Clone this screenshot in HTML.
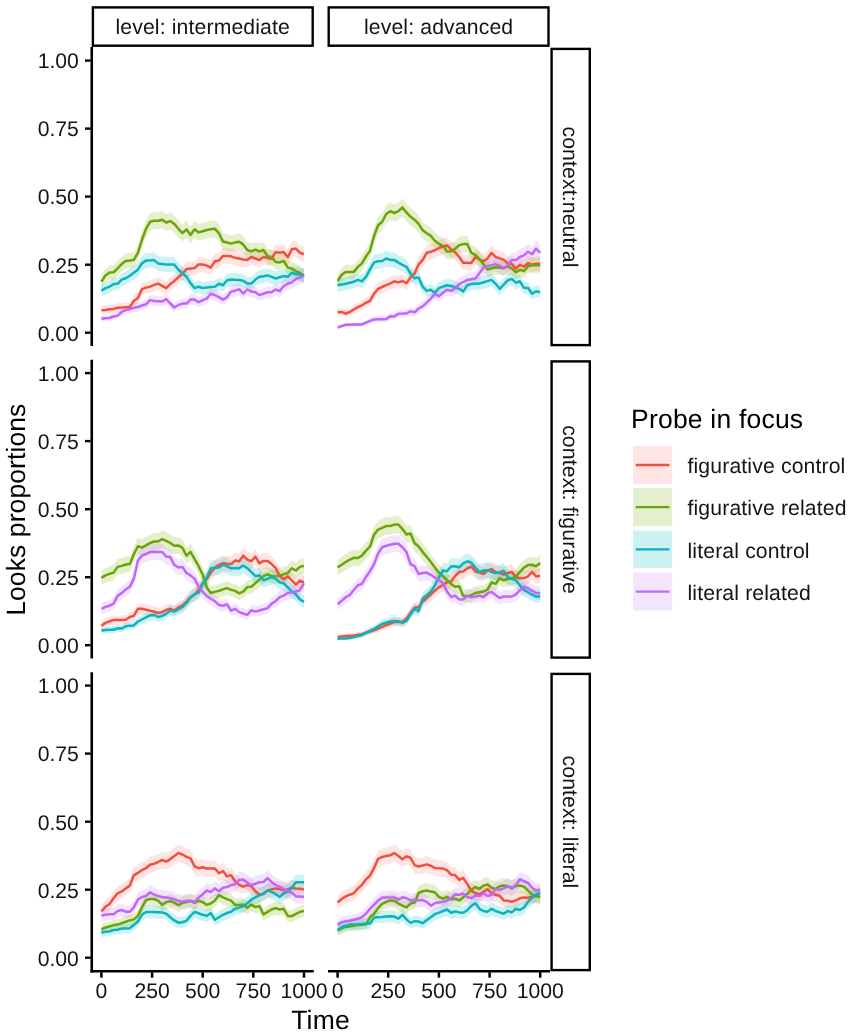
<!DOCTYPE html>
<html><head><meta charset="utf-8"><title>Looks proportions</title>
<style>
html,body{margin:0;padding:0;background:#fff;}
body{width:851px;height:1036px;overflow:hidden;}
svg{display:block;filter:brightness(1);}
text{font-family:"Liberation Sans",sans-serif;fill:#141414;text-rendering:geometricPrecision;}
.t{font-size:21.2px;}
.T{font-size:26.5px;fill:#000;}
.ls{letter-spacing:0.14px;}
</style></head><body>
<svg width="851" height="1036" viewBox="0 0 851 1036">
<rect width="851" height="1036" fill="#fff"/>
<g>
<path d="M101.4,306.1 L105.5,305.5 L109.5,304.9 L113.6,304.5 L117.6,303.2 L121.7,303.0 L125.7,302.7 L129.8,302.5 L133.8,295.7 L137.9,292.5 L141.9,283.1 L146.0,281.4 L150.0,280.4 L154.1,278.5 L158.1,277.1 L162.2,279.6 L166.2,281.9 L170.3,277.6 L174.3,274.4 L178.4,270.4 L182.4,266.8 L186.5,261.8 L190.5,261.4 L194.6,260.7 L198.6,256.9 L202.7,256.9 L206.8,258.2 L210.8,260.3 L214.9,253.7 L218.9,252.9 L223.0,248.1 L227.0,248.3 L231.1,248.6 L235.1,250.0 L239.2,250.7 L243.2,251.9 L247.3,252.5 L251.3,249.3 L255.4,250.7 L259.4,252.5 L263.5,249.3 L267.5,250.3 L271.6,251.0 L275.6,244.2 L279.7,244.9 L283.7,244.2 L287.8,249.6 L291.8,241.3 L295.9,240.5 L299.9,244.9 L304.0,246.4 L304.0,262.1 L299.9,260.7 L295.9,256.6 L291.8,257.3 L287.8,265.1 L283.7,260.0 L279.7,260.7 L275.6,260.0 L271.6,266.4 L267.5,265.7 L263.5,264.8 L259.4,267.8 L255.4,266.2 L251.3,264.8 L247.3,267.8 L243.2,267.2 L239.2,266.2 L235.1,265.5 L231.1,264.1 L227.0,263.9 L223.0,263.7 L218.9,268.2 L214.9,268.9 L210.8,275.0 L206.8,273.0 L202.7,271.9 L198.6,271.9 L194.6,275.4 L190.5,275.9 L186.5,276.3 L182.4,280.8 L178.4,284.1 L174.3,287.7 L170.3,290.5 L166.2,294.3 L162.2,292.3 L158.1,290.0 L154.1,291.3 L150.0,293.0 L146.0,293.8 L141.9,295.3 L137.9,303.4 L133.8,306.2 L129.8,311.7 L125.7,311.9 L121.7,312.2 L117.6,312.4 L113.6,313.4 L109.5,313.7 L105.5,314.2 L101.4,314.6Z" fill="#F8766D" fill-opacity="0.2"/>
<path d="M101.4,275.1 L105.5,268.4 L109.5,265.5 L113.6,265.2 L117.6,261.0 L121.7,256.6 L125.7,253.4 L129.8,252.8 L133.8,252.2 L137.9,244.9 L141.9,231.8 L146.0,220.3 L150.0,213.2 L154.1,212.2 L158.1,212.2 L162.2,211.0 L166.2,213.9 L170.3,212.4 L174.3,215.3 L178.4,220.3 L182.4,224.6 L186.5,220.8 L190.5,226.5 L194.6,220.8 L198.6,223.9 L202.7,222.8 L206.8,221.5 L210.8,220.8 L214.9,220.3 L218.9,224.6 L223.0,233.3 L227.0,234.3 L231.1,235.5 L235.1,234.2 L239.2,233.6 L243.2,236.2 L247.3,242.0 L251.3,243.4 L255.4,241.7 L259.4,243.4 L263.5,242.0 L267.5,248.6 L271.6,249.3 L275.6,254.4 L279.7,254.8 L283.7,253.4 L287.8,260.3 L291.8,261.3 L295.9,264.0 L299.9,265.9 L304.0,268.7 L304.0,282.6 L299.9,280.0 L295.9,278.3 L291.8,275.9 L287.8,275.0 L283.7,268.6 L279.7,270.0 L275.6,269.6 L271.6,264.8 L267.5,264.1 L263.5,258.0 L259.4,259.4 L255.4,257.7 L251.3,259.4 L247.3,258.0 L243.2,252.5 L239.2,250.0 L235.1,250.6 L231.1,251.8 L227.0,250.8 L223.0,249.8 L218.9,241.5 L214.9,237.4 L210.8,237.8 L206.8,238.5 L202.7,239.7 L198.6,240.8 L194.6,237.8 L190.5,243.3 L186.5,237.8 L182.4,241.5 L178.4,237.4 L174.3,232.5 L170.3,229.7 L166.2,231.1 L162.2,228.3 L158.1,229.4 L154.1,229.4 L150.0,230.4 L146.0,237.4 L141.9,248.4 L137.9,260.7 L133.8,267.5 L129.8,268.1 L125.7,268.6 L121.7,271.6 L117.6,275.6 L113.6,279.4 L109.5,279.7 L105.5,282.3 L101.4,288.3Z" fill="#7CAE00" fill-opacity="0.2"/>
<path d="M101.4,284.6 L105.5,281.9 L109.5,280.4 L113.6,277.7 L117.6,277.4 L121.7,272.9 L125.7,271.4 L129.8,268.7 L133.8,265.6 L137.9,262.5 L141.9,255.9 L146.0,252.9 L150.0,252.8 L154.1,252.5 L158.1,255.9 L162.2,256.4 L166.2,256.9 L170.3,256.9 L174.3,256.9 L178.4,262.5 L182.4,266.2 L186.5,269.9 L190.5,276.6 L194.6,281.9 L198.6,280.4 L202.7,281.9 L206.8,281.4 L210.8,280.8 L214.9,280.4 L218.9,277.4 L223.0,278.9 L227.0,273.6 L231.1,272.9 L235.1,273.0 L239.2,273.2 L243.2,274.1 L247.3,277.1 L251.3,277.1 L255.4,272.9 L259.4,269.9 L263.5,269.3 L267.5,268.4 L271.6,270.1 L275.6,271.7 L279.7,270.3 L283.7,269.2 L287.8,269.9 L291.8,265.8 L295.9,266.9 L299.9,267.6 L304.0,268.7 L304.0,282.6 L299.9,281.6 L295.9,281.0 L291.8,279.9 L287.8,283.7 L283.7,283.0 L279.7,284.0 L275.6,285.3 L271.6,283.8 L267.5,282.3 L263.5,283.1 L259.4,283.7 L255.4,286.3 L251.3,290.0 L247.3,290.0 L243.2,287.4 L239.2,286.6 L235.1,286.5 L231.1,286.3 L227.0,287.0 L223.0,291.6 L218.9,290.3 L214.9,293.0 L210.8,293.4 L206.8,293.9 L202.7,294.3 L198.6,293.0 L194.6,294.3 L190.5,289.7 L186.5,283.7 L182.4,280.3 L178.4,277.0 L174.3,271.9 L170.3,271.9 L166.2,271.9 L162.2,271.4 L158.1,270.9 L154.1,267.8 L150.0,268.0 L146.0,268.2 L141.9,270.9 L137.9,277.0 L133.8,279.8 L129.8,282.6 L125.7,285.0 L121.7,286.3 L117.6,290.3 L113.6,290.6 L109.5,293.0 L105.5,294.4 L101.4,296.6Z" fill="#00BFC4" fill-opacity="0.2"/>
<path d="M101.4,315.6 L105.5,315.0 L109.5,314.6 L113.6,313.0 L117.6,311.9 L121.7,307.9 L125.7,305.6 L129.8,304.6 L133.8,303.2 L137.9,302.5 L141.9,300.7 L146.0,299.4 L150.0,294.8 L154.1,295.8 L158.1,296.0 L162.2,296.3 L166.2,293.7 L170.3,298.5 L174.3,302.9 L178.4,300.1 L182.4,298.6 L186.5,298.6 L190.5,294.3 L194.6,294.3 L198.6,297.1 L202.7,294.8 L206.8,293.2 L210.8,287.9 L214.9,289.4 L218.9,291.5 L223.0,294.3 L227.0,291.7 L231.1,285.6 L235.1,284.7 L239.2,283.1 L243.2,287.9 L247.3,283.4 L251.3,285.6 L255.4,286.4 L259.4,289.4 L263.5,287.9 L267.5,286.4 L271.6,286.4 L275.6,283.4 L279.7,285.2 L283.7,279.6 L287.8,277.4 L291.8,275.9 L295.9,272.1 L299.9,270.8 L304.0,268.7 L304.0,282.6 L299.9,284.4 L295.9,285.7 L291.8,289.0 L287.8,290.3 L283.7,292.3 L279.7,297.2 L275.6,295.6 L271.6,298.2 L267.5,298.2 L263.5,299.5 L259.4,300.8 L255.4,298.2 L251.3,297.6 L247.3,295.6 L243.2,299.5 L239.2,295.3 L235.1,296.7 L231.1,297.6 L227.0,302.8 L223.0,305.0 L218.9,302.6 L214.9,300.8 L210.8,299.5 L206.8,304.1 L202.7,305.4 L198.6,307.3 L194.6,305.0 L190.5,305.0 L186.5,308.6 L182.4,308.6 L178.4,309.8 L174.3,312.1 L170.3,308.5 L166.2,304.4 L162.2,306.6 L158.1,306.4 L154.1,306.3 L150.0,305.4 L146.0,309.2 L141.9,310.3 L137.9,311.7 L133.8,312.4 L129.8,313.5 L125.7,314.3 L121.7,316.1 L117.6,319.2 L113.6,320.1 L109.5,321.3 L105.5,321.6 L101.4,322.0Z" fill="#C77CFF" fill-opacity="0.2"/>
<path d="M101.4,310.3 L105.5,309.9 L109.5,309.3 L113.6,308.9 L117.6,307.8 L121.7,307.6 L125.7,307.3 L129.8,307.1 L133.8,300.9 L137.9,297.9 L141.9,289.2 L146.0,287.6 L150.0,286.7 L154.1,284.9 L158.1,283.6 L162.2,285.9 L166.2,288.1 L170.3,284.1 L174.3,281.0 L178.4,277.3 L182.4,273.8 L186.5,269.0 L190.5,268.6 L194.6,268.0 L198.6,264.4 L202.7,264.4 L206.8,265.6 L210.8,267.6 L214.9,261.3 L218.9,260.6 L223.0,255.9 L227.0,256.1 L231.1,256.3 L235.1,257.8 L239.2,258.5 L243.2,259.5 L247.3,260.1 L251.3,257.0 L255.4,258.5 L259.4,260.1 L263.5,257.0 L267.5,258.0 L271.6,258.7 L275.6,252.1 L279.7,252.8 L283.7,252.1 L287.8,257.3 L291.8,249.3 L295.9,248.6 L299.9,252.8 L304.0,254.2" fill="none" stroke="#F1503F" stroke-width="2.5" stroke-linejoin="round"/>
<path d="M101.4,281.7 L105.5,275.4 L109.5,272.6 L113.6,272.3 L117.6,268.3 L121.7,264.1 L125.7,261.0 L129.8,260.5 L133.8,259.9 L137.9,252.8 L141.9,240.1 L146.0,228.8 L150.0,221.8 L154.1,220.8 L158.1,220.8 L162.2,219.7 L166.2,222.5 L170.3,221.1 L174.3,223.9 L178.4,228.8 L182.4,233.1 L186.5,229.3 L190.5,234.9 L194.6,229.3 L198.6,232.4 L202.7,231.2 L206.8,230.0 L210.8,229.3 L214.9,228.8 L218.9,233.1 L223.0,241.5 L227.0,242.5 L231.1,243.6 L235.1,242.4 L239.2,241.8 L243.2,244.4 L247.3,250.0 L251.3,251.4 L255.4,249.7 L259.4,251.4 L263.5,250.0 L267.5,256.3 L271.6,257.0 L275.6,262.0 L279.7,262.4 L283.7,261.0 L287.8,267.6 L291.8,268.6 L295.9,271.1 L299.9,273.0 L304.0,275.7" fill="none" stroke="#6AA408" stroke-width="2.5" stroke-linejoin="round"/>
<path d="M101.4,290.6 L105.5,288.1 L109.5,286.7 L113.6,284.1 L117.6,283.8 L121.7,279.6 L125.7,278.2 L129.8,275.7 L133.8,272.7 L137.9,269.7 L141.9,263.4 L146.0,260.6 L150.0,260.4 L154.1,260.1 L158.1,263.4 L162.2,263.9 L166.2,264.4 L170.3,264.4 L174.3,264.4 L178.4,269.7 L182.4,273.3 L186.5,276.8 L190.5,283.1 L194.6,288.1 L198.6,286.7 L202.7,288.1 L206.8,287.6 L210.8,287.1 L214.9,286.7 L218.9,283.8 L223.0,285.2 L227.0,280.3 L231.1,279.6 L235.1,279.8 L239.2,279.9 L243.2,280.7 L247.3,283.6 L251.3,283.6 L255.4,279.6 L259.4,276.8 L263.5,276.2 L267.5,275.4 L271.6,276.9 L275.6,278.5 L279.7,277.2 L283.7,276.1 L287.8,276.8 L291.8,272.8 L295.9,274.0 L299.9,274.6 L304.0,275.7" fill="none" stroke="#0DB2BA" stroke-width="2.5" stroke-linejoin="round"/>
<path d="M101.4,318.8 L105.5,318.3 L109.5,318.0 L113.6,316.5 L117.6,315.6 L121.7,312.0 L125.7,309.9 L129.8,309.0 L133.8,307.8 L137.9,307.1 L141.9,305.5 L146.0,304.3 L150.0,300.1 L154.1,301.0 L158.1,301.2 L162.2,301.5 L166.2,299.1 L170.3,303.5 L174.3,307.5 L178.4,305.0 L182.4,303.6 L186.5,303.6 L190.5,299.6 L194.6,299.6 L198.6,302.2 L202.7,300.1 L206.8,298.6 L210.8,293.7 L214.9,295.1 L218.9,297.1 L223.0,299.6 L227.0,297.2 L231.1,291.6 L235.1,290.7 L239.2,289.2 L243.2,293.7 L247.3,289.5 L251.3,291.6 L255.4,292.3 L259.4,295.1 L263.5,293.7 L267.5,292.3 L271.6,292.3 L275.6,289.5 L279.7,291.2 L283.7,286.0 L287.8,283.8 L291.8,282.4 L295.9,278.9 L299.9,277.6 L304.0,275.7" fill="none" stroke="#C066FA" stroke-width="2.5" stroke-linejoin="round"/>
</g>
<g>
<path d="M337.6,308.3 L341.7,307.9 L345.7,309.8 L349.8,307.9 L353.8,305.1 L357.9,302.5 L361.9,300.4 L366.0,297.8 L370.0,295.5 L374.1,287.9 L378.1,282.6 L382.2,280.7 L386.2,278.9 L390.3,276.8 L394.3,274.7 L398.4,275.9 L402.4,274.4 L406.5,276.6 L410.5,270.6 L414.6,266.2 L418.6,257.2 L422.7,252.2 L426.7,244.9 L430.8,243.7 L434.8,242.3 L438.9,239.9 L443.0,238.4 L447.0,237.3 L451.1,241.3 L455.1,244.4 L459.2,249.3 L463.2,255.1 L467.3,255.3 L471.3,255.4 L475.4,249.3 L479.4,251.7 L483.5,253.7 L487.5,250.7 L491.6,244.9 L495.6,249.3 L499.7,250.7 L503.7,252.2 L507.8,255.9 L511.8,256.6 L515.9,261.3 L519.9,257.3 L524.0,259.3 L528.0,255.4 L532.1,257.3 L536.1,256.2 L540.2,256.6 L540.2,271.6 L536.1,271.2 L532.1,272.3 L528.0,270.5 L524.0,274.0 L519.9,272.3 L515.9,275.9 L511.8,271.6 L507.8,270.9 L503.7,267.5 L499.7,266.1 L495.6,264.8 L491.6,260.7 L487.5,266.2 L483.5,268.9 L479.4,267.0 L475.4,264.8 L471.3,270.5 L467.3,270.4 L463.2,270.2 L459.2,264.8 L455.1,260.2 L451.1,257.3 L447.0,253.6 L443.0,254.6 L438.9,256.0 L434.8,258.3 L430.8,259.6 L426.7,260.7 L422.7,267.5 L418.6,272.1 L414.6,280.3 L410.5,284.2 L406.5,289.7 L402.4,287.7 L398.4,289.0 L394.3,287.9 L390.3,289.8 L386.2,291.6 L382.2,293.3 L378.1,294.9 L374.1,299.5 L370.0,306.0 L366.0,307.9 L361.9,310.1 L357.9,311.7 L353.8,313.8 L349.8,316.1 L345.7,317.6 L341.7,316.1 L337.6,316.4Z" fill="#F8766D" fill-opacity="0.2"/>
<path d="M337.6,274.4 L341.7,267.7 L345.7,264.7 L349.8,264.7 L353.8,264.7 L357.9,259.6 L361.9,255.9 L366.0,248.7 L370.0,242.7 L374.1,227.5 L378.1,216.7 L382.2,213.2 L386.2,205.3 L390.3,202.5 L394.3,204.3 L398.4,202.5 L402.4,198.6 L406.5,203.9 L410.5,208.0 L414.6,211.0 L418.6,215.3 L422.7,221.8 L426.7,224.8 L430.8,227.5 L434.8,232.6 L438.9,235.6 L443.0,237.6 L447.0,243.4 L451.1,243.4 L455.1,240.9 L459.2,236.9 L463.2,235.9 L467.3,235.9 L471.3,244.9 L475.4,247.1 L479.4,251.5 L483.5,256.6 L487.5,262.2 L491.6,261.0 L495.6,259.8 L499.7,260.4 L503.7,261.0 L507.8,258.8 L511.8,261.0 L515.9,265.2 L519.9,262.5 L524.0,263.7 L528.0,258.8 L532.1,257.8 L536.1,257.8 L540.2,257.8 L540.2,272.7 L536.1,272.7 L532.1,272.7 L528.0,273.6 L524.0,278.0 L519.9,277.0 L515.9,279.4 L511.8,275.6 L507.8,273.6 L503.7,275.6 L499.7,275.1 L495.6,274.5 L491.6,275.6 L487.5,276.7 L483.5,271.6 L479.4,266.8 L475.4,262.8 L471.3,260.7 L467.3,252.2 L463.2,252.2 L459.2,253.2 L455.1,257.0 L451.1,259.4 L447.0,259.4 L443.0,253.9 L438.9,252.0 L434.8,249.1 L430.8,244.3 L426.7,241.6 L422.7,238.7 L418.6,232.5 L414.6,228.3 L410.5,225.4 L406.5,221.4 L402.4,216.2 L398.4,220.0 L394.3,221.8 L390.3,220.0 L386.2,222.8 L382.2,230.4 L378.1,233.9 L374.1,244.3 L370.0,258.7 L366.0,264.2 L361.9,270.9 L357.9,274.3 L353.8,279.0 L349.8,279.0 L345.7,279.0 L341.7,281.7 L337.6,287.7Z" fill="#7CAE00" fill-opacity="0.2"/>
<path d="M337.6,278.9 L341.7,278.1 L345.7,277.4 L349.8,276.1 L353.8,275.1 L357.9,273.2 L361.9,274.7 L366.0,269.9 L370.0,262.0 L374.1,254.8 L378.1,253.7 L382.2,253.4 L386.2,250.7 L390.3,252.2 L394.3,252.2 L398.4,255.0 L402.4,257.3 L406.5,259.6 L410.5,266.4 L414.6,271.4 L418.6,270.6 L422.7,280.4 L426.7,284.9 L430.8,283.7 L434.8,287.1 L438.9,281.9 L443.0,280.3 L447.0,278.9 L451.1,279.6 L455.1,280.8 L459.2,282.6 L463.2,285.6 L467.3,278.9 L471.3,277.7 L475.4,277.4 L479.4,277.1 L483.5,275.7 L487.5,274.4 L491.6,273.2 L495.6,277.4 L499.7,282.6 L503.7,278.1 L507.8,273.6 L511.8,272.1 L515.9,276.2 L519.9,274.7 L524.0,281.6 L528.0,281.9 L532.1,287.9 L536.1,285.2 L540.2,286.4 L540.2,298.2 L536.1,297.2 L532.1,299.5 L528.0,294.3 L524.0,294.0 L519.9,287.9 L515.9,289.3 L511.8,285.7 L507.8,287.0 L503.7,291.0 L499.7,294.9 L495.6,290.3 L491.6,286.6 L487.5,287.7 L483.5,288.9 L479.4,290.0 L475.4,290.3 L471.3,290.6 L467.3,291.6 L463.2,297.6 L459.2,294.9 L455.1,293.3 L451.1,292.3 L447.0,291.6 L443.0,292.9 L438.9,294.3 L434.8,298.9 L430.8,295.9 L426.7,296.9 L422.7,293.0 L418.6,284.3 L414.6,285.0 L410.5,280.5 L406.5,274.3 L402.4,272.3 L398.4,270.1 L394.3,267.5 L390.3,267.5 L386.2,266.2 L382.2,268.6 L378.1,268.9 L374.1,270.0 L370.0,276.5 L366.0,283.7 L361.9,287.9 L357.9,286.6 L353.8,288.3 L349.8,289.2 L345.7,290.3 L341.7,291.0 L337.6,291.6Z" fill="#00BFC4" fill-opacity="0.2"/>
<path d="M337.6,326.0 L341.7,324.3 L345.7,322.6 L349.8,322.5 L353.8,322.4 L357.9,322.3 L361.9,322.2 L366.0,320.1 L370.0,318.1 L374.1,316.3 L378.1,316.1 L382.2,316.0 L386.2,315.9 L390.3,312.7 L394.3,313.0 L398.4,309.8 L402.4,309.7 L406.5,309.5 L410.5,307.2 L414.6,308.3 L418.6,304.0 L422.7,301.7 L426.7,297.7 L430.8,293.2 L434.8,287.9 L438.9,290.6 L443.0,287.0 L447.0,283.7 L451.1,284.9 L455.1,282.0 L459.2,277.7 L463.2,275.4 L467.3,273.2 L471.3,272.4 L475.4,271.7 L479.4,266.2 L483.5,260.3 L487.5,258.8 L491.6,257.7 L495.6,256.6 L499.7,258.6 L503.7,260.7 L507.8,258.1 L511.8,252.5 L515.9,252.2 L519.9,249.3 L524.0,247.5 L528.0,243.7 L532.1,246.4 L536.1,240.5 L540.2,244.9 L540.2,260.7 L536.1,256.6 L532.1,262.1 L528.0,259.6 L524.0,263.2 L519.9,264.8 L515.9,267.5 L511.8,267.8 L507.8,272.9 L503.7,275.4 L499.7,273.4 L495.6,271.6 L491.6,272.6 L487.5,273.6 L483.5,275.0 L479.4,280.3 L475.4,285.3 L471.3,285.9 L467.3,286.6 L463.2,288.6 L459.2,290.6 L455.1,294.4 L451.1,296.9 L447.0,295.9 L443.0,298.7 L438.9,301.9 L434.8,299.5 L430.8,304.1 L426.7,307.8 L422.7,311.1 L418.6,313.0 L414.6,316.4 L410.5,315.5 L406.5,317.4 L402.4,317.5 L398.4,317.6 L394.3,320.1 L390.3,319.8 L386.2,322.2 L382.2,322.3 L378.1,322.4 L374.1,322.5 L370.0,323.8 L366.0,325.2 L361.9,326.7 L357.9,326.7 L353.8,326.8 L349.8,326.8 L345.7,326.9 L341.7,328.0 L337.6,329.1Z" fill="#C77CFF" fill-opacity="0.2"/>
<path d="M337.6,312.3 L341.7,312.0 L345.7,313.7 L349.8,312.0 L353.8,309.5 L357.9,307.1 L361.9,305.3 L366.0,302.8 L370.0,300.8 L374.1,293.7 L378.1,288.8 L382.2,287.0 L386.2,285.2 L390.3,283.3 L394.3,281.3 L398.4,282.4 L402.4,281.0 L406.5,283.1 L410.5,277.4 L414.6,273.3 L418.6,264.6 L422.7,259.9 L426.7,252.8 L430.8,251.7 L434.8,250.3 L438.9,248.0 L443.0,246.5 L447.0,245.5 L451.1,249.3 L455.1,252.3 L459.2,257.0 L463.2,262.7 L467.3,262.8 L471.3,263.0 L475.4,257.0 L479.4,259.4 L483.5,261.3 L487.5,258.5 L491.6,252.8 L495.6,257.0 L499.7,258.4 L503.7,259.9 L507.8,263.4 L511.8,264.1 L515.9,268.6 L519.9,264.8 L524.0,266.6 L528.0,263.0 L532.1,264.8 L536.1,263.7 L540.2,264.1" fill="none" stroke="#F1503F" stroke-width="2.5" stroke-linejoin="round"/>
<path d="M337.6,281.0 L341.7,274.7 L345.7,271.9 L349.8,271.9 L353.8,271.9 L357.9,266.9 L361.9,263.4 L366.0,256.5 L370.0,250.7 L374.1,235.9 L378.1,225.3 L382.2,221.8 L386.2,214.0 L390.3,211.2 L394.3,213.0 L398.4,211.2 L402.4,207.4 L406.5,212.6 L410.5,216.7 L414.6,219.7 L418.6,223.9 L422.7,230.3 L426.7,233.2 L430.8,235.9 L434.8,240.8 L438.9,243.8 L443.0,245.8 L447.0,251.4 L451.1,251.4 L455.1,248.9 L459.2,245.1 L463.2,244.1 L467.3,244.1 L471.3,252.8 L475.4,254.9 L479.4,259.2 L483.5,264.1 L487.5,269.5 L491.6,268.3 L495.6,267.2 L499.7,267.7 L503.7,268.3 L507.8,266.2 L511.8,268.3 L515.9,272.3 L519.9,269.7 L524.0,270.9 L528.0,266.2 L532.1,265.2 L536.1,265.2 L540.2,265.2" fill="none" stroke="#6AA408" stroke-width="2.5" stroke-linejoin="round"/>
<path d="M337.6,285.2 L341.7,284.5 L345.7,283.8 L349.8,282.7 L353.8,281.7 L357.9,279.9 L361.9,281.3 L366.0,276.8 L370.0,269.3 L374.1,262.4 L378.1,261.3 L382.2,261.0 L386.2,258.5 L390.3,259.9 L394.3,259.9 L398.4,262.6 L402.4,264.8 L406.5,266.9 L410.5,273.5 L414.6,278.2 L418.6,277.5 L422.7,286.7 L426.7,290.9 L430.8,289.8 L434.8,293.0 L438.9,288.1 L443.0,286.6 L447.0,285.2 L451.1,286.0 L455.1,287.1 L459.2,288.8 L463.2,291.6 L467.3,285.2 L471.3,284.1 L475.4,283.8 L479.4,283.6 L483.5,282.3 L487.5,281.1 L491.6,279.9 L495.6,283.8 L499.7,288.8 L503.7,284.6 L507.8,280.3 L511.8,278.9 L515.9,282.7 L519.9,281.3 L524.0,287.8 L528.0,288.1 L532.1,293.7 L536.1,291.2 L540.2,292.3" fill="none" stroke="#0DB2BA" stroke-width="2.5" stroke-linejoin="round"/>
<path d="M337.6,327.5 L341.7,326.1 L345.7,324.7 L349.8,324.7 L353.8,324.6 L357.9,324.5 L361.9,324.4 L366.0,322.7 L370.0,320.9 L374.1,319.4 L378.1,319.3 L382.2,319.2 L386.2,319.1 L390.3,316.3 L394.3,316.6 L398.4,313.7 L402.4,313.6 L406.5,313.4 L410.5,311.3 L414.6,312.3 L418.6,308.5 L422.7,306.4 L426.7,302.7 L430.8,298.6 L434.8,293.7 L438.9,296.2 L443.0,292.9 L447.0,289.8 L451.1,290.9 L455.1,288.2 L459.2,284.1 L463.2,282.0 L467.3,279.9 L471.3,279.2 L475.4,278.5 L479.4,273.3 L483.5,267.6 L487.5,266.2 L491.6,265.1 L495.6,264.1 L499.7,266.0 L503.7,268.0 L507.8,265.5 L511.8,260.1 L515.9,259.9 L519.9,257.0 L524.0,255.4 L528.0,251.7 L532.1,254.2 L536.1,248.6 L540.2,252.8" fill="none" stroke="#C066FA" stroke-width="2.5" stroke-linejoin="round"/>
</g>
<g>
<path d="M101.4,621.8 L105.5,618.6 L109.5,616.8 L113.6,615.5 L117.6,615.4 L121.7,615.3 L125.7,615.2 L129.8,612.1 L133.8,610.9 L137.9,603.2 L141.9,603.2 L146.0,604.2 L150.0,605.2 L154.1,606.4 L158.1,607.8 L162.2,606.7 L166.2,604.4 L170.3,603.2 L174.3,605.2 L178.4,601.7 L182.4,599.9 L186.5,595.3 L190.5,590.8 L194.6,587.8 L198.6,583.4 L202.7,576.0 L206.8,571.8 L210.8,564.9 L214.9,559.8 L218.9,556.9 L223.0,555.1 L227.0,555.7 L231.1,556.2 L235.1,552.5 L239.2,553.3 L243.2,547.5 L247.3,551.4 L251.3,553.3 L255.4,548.5 L259.4,555.4 L263.5,552.8 L267.5,552.8 L271.6,556.2 L275.6,560.1 L279.7,568.6 L283.7,571.8 L287.8,568.9 L291.8,573.0 L295.9,577.4 L299.9,573.3 L304.0,575.2 L304.0,589.7 L299.9,587.9 L295.9,591.7 L291.8,587.6 L287.8,583.9 L283.7,586.6 L279.7,583.6 L275.6,575.7 L271.6,572.1 L267.5,568.9 L263.5,568.9 L259.4,571.4 L255.4,564.8 L251.3,569.3 L247.3,567.5 L243.2,563.8 L239.2,569.3 L235.1,568.6 L231.1,572.1 L227.0,571.6 L223.0,571.1 L218.9,572.7 L214.9,575.5 L210.8,580.2 L206.8,586.6 L202.7,590.3 L198.6,597.0 L194.6,601.0 L190.5,603.7 L186.5,607.6 L182.4,611.6 L178.4,613.1 L174.3,616.1 L170.3,614.4 L166.2,615.5 L162.2,617.4 L158.1,618.3 L154.1,617.2 L150.0,616.1 L146.0,615.2 L141.9,614.4 L137.9,614.4 L133.8,620.9 L129.8,621.9 L125.7,624.4 L121.7,624.5 L117.6,624.6 L113.6,624.7 L109.5,625.8 L105.5,627.2 L101.4,629.7Z" fill="#F8766D" fill-opacity="0.2"/>
<path d="M101.4,570.4 L105.5,567.9 L109.5,566.2 L113.6,564.9 L117.6,559.1 L121.7,558.0 L125.7,556.6 L129.8,556.2 L133.8,546.0 L137.9,537.8 L141.9,539.2 L146.0,536.9 L150.0,534.5 L154.1,533.0 L158.1,533.0 L162.2,530.6 L166.2,532.3 L170.3,534.5 L174.3,537.3 L178.4,536.9 L182.4,539.5 L186.5,547.5 L190.5,543.5 L194.6,551.1 L198.6,558.4 L202.7,567.1 L206.8,580.4 L210.8,586.3 L214.9,585.2 L218.9,584.1 L223.0,582.5 L227.0,581.1 L231.1,582.9 L235.1,584.1 L239.2,586.6 L243.2,584.9 L247.3,580.1 L251.3,579.7 L255.4,576.0 L259.4,572.3 L263.5,568.6 L267.5,566.8 L271.6,568.6 L275.6,568.9 L279.7,567.9 L283.7,566.8 L287.8,565.4 L291.8,560.5 L295.9,562.7 L299.9,559.1 L304.0,558.1 L304.0,573.8 L299.9,574.8 L295.9,578.2 L291.8,576.1 L287.8,580.6 L283.7,582.0 L279.7,582.9 L275.6,583.9 L271.6,583.6 L267.5,582.0 L263.5,583.6 L259.4,587.0 L255.4,590.3 L251.3,593.7 L247.3,594.1 L243.2,598.4 L239.2,600.0 L235.1,597.7 L231.1,596.6 L227.0,595.0 L223.0,596.2 L218.9,597.7 L214.9,598.7 L210.8,599.7 L206.8,594.4 L202.7,582.2 L198.6,574.1 L194.6,567.3 L190.5,560.1 L186.5,563.8 L182.4,556.3 L178.4,553.8 L174.3,554.2 L170.3,551.5 L166.2,549.4 L162.2,547.7 L158.1,550.1 L154.1,550.1 L150.0,551.4 L146.0,553.8 L141.9,556.0 L137.9,554.6 L133.8,562.5 L129.8,572.1 L125.7,572.5 L121.7,573.8 L117.6,574.8 L113.6,580.2 L109.5,581.4 L105.5,582.9 L101.4,585.2Z" fill="#7CAE00" fill-opacity="0.2"/>
<path d="M101.4,627.0 L105.5,626.8 L109.5,626.4 L113.6,626.2 L117.6,624.6 L121.7,625.0 L125.7,622.3 L129.8,621.8 L133.8,621.5 L137.9,617.1 L141.9,614.8 L146.0,612.5 L150.0,610.2 L154.1,609.8 L158.1,612.1 L162.2,610.9 L166.2,608.7 L170.3,605.2 L174.3,606.3 L178.4,603.7 L182.4,601.4 L186.5,596.8 L190.5,591.1 L194.6,587.8 L198.6,586.0 L202.7,576.7 L206.8,570.1 L210.8,560.5 L214.9,560.0 L218.9,559.5 L223.0,556.9 L227.0,558.3 L231.1,560.5 L235.1,560.5 L239.2,560.5 L243.2,557.6 L247.3,560.5 L251.3,564.2 L255.4,568.6 L259.4,567.9 L263.5,573.0 L267.5,571.5 L271.6,569.8 L275.6,571.5 L279.7,575.2 L283.7,576.2 L287.8,580.4 L291.8,584.6 L295.9,587.8 L299.9,593.1 L304.0,595.6 L304.0,607.9 L299.9,605.6 L295.9,601.0 L291.8,598.1 L287.8,594.4 L283.7,590.6 L279.7,589.7 L275.6,586.3 L271.6,584.7 L267.5,586.3 L263.5,587.6 L259.4,582.9 L255.4,583.6 L251.3,579.5 L247.3,576.1 L243.2,573.4 L239.2,576.1 L235.1,576.1 L231.1,576.1 L227.0,574.1 L223.0,572.7 L218.9,575.2 L214.9,575.7 L210.8,576.1 L206.8,585.0 L202.7,591.0 L198.6,599.4 L194.6,601.0 L190.5,603.9 L186.5,608.9 L182.4,612.9 L178.4,614.8 L174.3,617.0 L170.3,616.1 L166.2,619.1 L162.2,620.9 L158.1,621.9 L154.1,620.0 L150.0,620.4 L146.0,622.2 L141.9,624.1 L137.9,625.9 L133.8,629.4 L129.8,629.7 L125.7,630.1 L121.7,632.1 L117.6,631.9 L113.6,633.1 L109.5,633.3 L105.5,633.5 L101.4,633.7Z" fill="#00BFC4" fill-opacity="0.2"/>
<path d="M101.4,603.2 L105.5,601.1 L109.5,599.9 L113.6,597.6 L117.6,589.3 L121.7,586.5 L125.7,582.6 L129.8,579.7 L133.8,571.5 L137.9,552.5 L141.9,547.5 L146.0,545.7 L150.0,543.8 L154.1,543.5 L158.1,543.7 L162.2,543.8 L166.2,548.5 L170.3,548.9 L174.3,556.9 L178.4,559.5 L182.4,559.1 L186.5,565.4 L190.5,567.9 L194.6,571.5 L198.6,579.7 L202.7,584.9 L206.8,589.6 L210.8,592.3 L214.9,595.0 L218.9,599.1 L223.0,599.9 L227.0,598.3 L231.1,605.2 L235.1,603.2 L239.2,606.7 L243.2,608.3 L247.3,609.8 L251.3,604.7 L255.4,606.3 L259.4,605.0 L263.5,603.7 L267.5,602.6 L271.6,597.6 L275.6,595.0 L279.7,590.8 L283.7,589.0 L287.8,586.3 L291.8,585.6 L295.9,584.9 L299.9,583.4 L304.0,576.0 L304.0,590.3 L299.9,597.0 L295.9,598.4 L291.8,599.0 L287.8,599.7 L283.7,602.1 L279.7,603.7 L275.6,607.4 L271.6,609.6 L267.5,613.9 L263.5,614.8 L259.4,616.0 L255.4,617.0 L251.3,615.7 L247.3,620.0 L243.2,618.8 L239.2,617.4 L235.1,614.4 L231.1,616.1 L227.0,610.2 L223.0,611.6 L218.9,610.9 L214.9,607.4 L210.8,605.0 L206.8,602.6 L202.7,598.4 L198.6,593.7 L194.6,586.3 L190.5,583.0 L186.5,580.6 L182.4,574.8 L178.4,575.2 L174.3,572.7 L170.3,565.2 L166.2,564.8 L162.2,560.4 L158.1,560.3 L154.1,560.1 L150.0,560.4 L146.0,562.2 L141.9,563.8 L137.9,568.6 L133.8,586.3 L129.8,593.7 L125.7,596.4 L121.7,599.8 L117.6,602.3 L113.6,609.6 L109.5,611.6 L105.5,612.6 L101.4,614.4Z" fill="#C77CFF" fill-opacity="0.2"/>
<path d="M101.4,625.7 L105.5,622.9 L109.5,621.3 L113.6,620.1 L117.6,620.0 L121.7,619.9 L125.7,619.8 L129.8,617.0 L133.8,615.9 L137.9,608.8 L141.9,608.8 L146.0,609.7 L150.0,610.6 L154.1,611.8 L158.1,613.0 L162.2,612.1 L166.2,609.9 L170.3,608.8 L174.3,610.6 L178.4,607.4 L182.4,605.7 L186.5,601.5 L190.5,597.2 L194.6,594.4 L198.6,590.2 L202.7,583.1 L206.8,579.2 L210.8,572.6 L214.9,567.6 L218.9,564.8 L223.0,563.1 L227.0,563.7 L231.1,564.1 L235.1,560.6 L239.2,561.3 L243.2,555.6 L247.3,559.5 L251.3,561.3 L255.4,556.6 L259.4,563.4 L263.5,560.9 L267.5,560.9 L271.6,564.1 L275.6,567.9 L279.7,576.1 L283.7,579.2 L287.8,576.4 L291.8,580.3 L295.9,584.6 L299.9,580.6 L304.0,582.4" fill="none" stroke="#F1503F" stroke-width="2.5" stroke-linejoin="round"/>
<path d="M101.4,577.8 L105.5,575.4 L109.5,573.8 L113.6,572.6 L117.6,566.9 L121.7,565.9 L125.7,564.5 L129.8,564.1 L133.8,554.2 L137.9,546.2 L141.9,547.6 L146.0,545.4 L150.0,543.0 L154.1,541.5 L158.1,541.5 L162.2,539.2 L166.2,540.8 L170.3,543.0 L174.3,545.8 L178.4,545.4 L182.4,547.9 L186.5,555.6 L190.5,551.8 L194.6,559.2 L198.6,566.2 L202.7,574.7 L206.8,587.4 L210.8,593.0 L214.9,591.9 L218.9,590.9 L223.0,589.4 L227.0,588.1 L231.1,589.8 L235.1,590.9 L239.2,593.3 L243.2,591.6 L247.3,587.1 L251.3,586.7 L255.4,583.1 L259.4,579.6 L263.5,576.1 L267.5,574.4 L271.6,576.1 L275.6,576.4 L279.7,575.4 L283.7,574.4 L287.8,573.0 L291.8,568.3 L295.9,570.5 L299.9,566.9 L304.0,565.9" fill="none" stroke="#6AA408" stroke-width="2.5" stroke-linejoin="round"/>
<path d="M101.4,630.4 L105.5,630.1 L109.5,629.8 L113.6,629.7 L117.6,628.3 L121.7,628.6 L125.7,626.2 L129.8,625.7 L133.8,625.4 L137.9,621.5 L141.9,619.5 L146.0,617.4 L150.0,615.3 L154.1,614.9 L158.1,617.0 L162.2,615.9 L166.2,613.9 L170.3,610.6 L174.3,611.6 L178.4,609.2 L182.4,607.1 L186.5,602.9 L190.5,597.5 L194.6,594.4 L198.6,592.7 L202.7,583.9 L206.8,577.5 L210.8,568.3 L214.9,567.8 L218.9,567.4 L223.0,564.8 L227.0,566.2 L231.1,568.3 L235.1,568.3 L239.2,568.3 L243.2,565.5 L247.3,568.3 L251.3,571.9 L255.4,576.1 L259.4,575.4 L263.5,580.3 L267.5,578.9 L271.6,577.2 L275.6,578.9 L279.7,582.4 L283.7,583.4 L287.8,587.4 L291.8,591.3 L295.9,594.4 L299.9,599.4 L304.0,601.8" fill="none" stroke="#0DB2BA" stroke-width="2.5" stroke-linejoin="round"/>
<path d="M101.4,608.8 L105.5,606.9 L109.5,605.7 L113.6,603.6 L117.6,595.8 L121.7,593.1 L125.7,589.5 L129.8,586.7 L133.8,578.9 L137.9,560.6 L141.9,555.6 L146.0,554.0 L150.0,552.1 L154.1,551.8 L158.1,552.0 L162.2,552.1 L166.2,556.6 L170.3,557.1 L174.3,564.8 L178.4,567.4 L182.4,566.9 L186.5,573.0 L190.5,575.4 L194.6,578.9 L198.6,586.7 L202.7,591.6 L206.8,596.1 L210.8,598.7 L214.9,601.2 L218.9,605.0 L223.0,605.7 L227.0,604.3 L231.1,610.6 L235.1,608.8 L239.2,612.1 L243.2,613.5 L247.3,614.9 L251.3,610.2 L255.4,611.6 L259.4,610.5 L263.5,609.2 L267.5,608.2 L271.6,603.6 L275.6,601.2 L279.7,597.2 L283.7,595.6 L287.8,593.0 L291.8,592.3 L295.9,591.6 L299.9,590.2 L304.0,583.1" fill="none" stroke="#C066FA" stroke-width="2.5" stroke-linejoin="round"/>
</g>
<g>
<path d="M337.6,634.8 L341.7,634.2 L345.7,633.6 L349.8,633.3 L353.8,633.1 L357.9,632.2 L361.9,631.5 L366.0,629.9 L370.0,628.4 L374.1,627.0 L378.1,625.0 L382.2,623.1 L386.2,621.1 L390.3,619.3 L394.3,617.5 L398.4,617.5 L402.4,617.5 L406.5,613.6 L410.5,607.6 L414.6,602.1 L418.6,601.4 L422.7,595.3 L426.7,591.8 L430.8,587.8 L434.8,584.0 L438.9,580.4 L443.0,577.7 L447.0,575.2 L451.1,574.2 L455.1,568.6 L459.2,564.2 L463.2,563.9 L467.3,560.5 L471.3,558.6 L475.4,563.5 L479.4,564.9 L483.5,566.4 L487.5,562.7 L491.6,561.6 L495.6,564.5 L499.7,565.4 L503.7,567.1 L507.8,565.4 L511.8,564.2 L515.9,569.8 L519.9,570.8 L524.0,570.8 L528.0,568.9 L532.1,564.2 L536.1,568.9 L540.2,568.3 L540.2,583.3 L536.1,583.9 L532.1,579.5 L528.0,583.9 L524.0,585.6 L519.9,585.6 L515.9,584.7 L511.8,579.5 L507.8,580.6 L503.7,582.2 L499.7,580.6 L495.6,579.8 L491.6,577.1 L487.5,578.2 L483.5,581.6 L479.4,580.2 L475.4,578.9 L471.3,574.4 L467.3,576.1 L463.2,579.3 L459.2,579.5 L455.1,583.6 L451.1,588.7 L447.0,589.7 L443.0,591.9 L438.9,594.4 L434.8,597.6 L430.8,601.0 L426.7,604.5 L422.7,607.6 L418.6,612.9 L414.6,613.5 L410.5,618.1 L406.5,623.2 L402.4,626.3 L398.4,626.3 L394.3,626.3 L390.3,627.8 L386.2,629.2 L382.2,630.7 L378.1,632.2 L374.1,633.7 L370.0,634.7 L366.0,635.8 L361.9,636.9 L357.9,637.5 L353.8,638.1 L349.8,638.2 L345.7,638.4 L341.7,638.8 L337.6,639.2Z" fill="#F8766D" fill-opacity="0.2"/>
<path d="M337.6,559.5 L341.7,556.7 L345.7,554.0 L349.8,551.6 L353.8,549.6 L357.9,549.9 L361.9,547.5 L366.0,542.3 L370.0,538.1 L374.1,525.9 L378.1,520.9 L382.2,519.1 L386.2,517.3 L390.3,517.3 L394.3,515.9 L398.4,515.9 L402.4,520.2 L406.5,525.9 L410.5,524.9 L414.6,534.5 L418.6,538.1 L422.7,543.8 L426.7,548.6 L430.8,554.0 L434.8,559.6 L438.9,564.9 L443.0,568.6 L447.0,573.0 L451.1,576.7 L455.1,579.7 L459.2,579.2 L463.2,589.3 L467.3,589.6 L471.3,588.6 L475.4,586.3 L479.4,585.6 L483.5,584.9 L487.5,582.6 L491.6,575.2 L495.6,576.7 L499.7,570.8 L503.7,573.0 L507.8,571.5 L511.8,570.8 L515.9,569.3 L519.9,564.2 L524.0,559.8 L528.0,557.2 L532.1,556.9 L536.1,558.3 L540.2,555.1 L540.2,571.1 L536.1,574.1 L532.1,572.7 L528.0,573.0 L524.0,575.5 L519.9,579.5 L515.9,584.3 L511.8,585.6 L507.8,586.3 L503.7,587.6 L499.7,585.6 L495.6,591.0 L491.6,589.7 L487.5,596.4 L483.5,598.4 L479.4,599.0 L475.4,599.7 L471.3,601.7 L467.3,602.6 L463.2,602.3 L459.2,593.3 L455.1,593.7 L451.1,591.0 L447.0,587.6 L443.0,583.6 L438.9,580.2 L434.8,575.3 L430.8,570.0 L426.7,565.0 L422.7,560.4 L418.6,554.9 L414.6,551.4 L410.5,542.1 L406.5,543.1 L402.4,537.6 L398.4,533.4 L394.3,533.4 L390.3,534.8 L386.2,534.8 L382.2,536.5 L378.1,538.2 L374.1,543.1 L370.0,554.9 L366.0,559.0 L361.9,563.8 L357.9,566.2 L353.8,565.9 L349.8,567.8 L345.7,570.0 L341.7,572.6 L337.6,575.2Z" fill="#7CAE00" fill-opacity="0.2"/>
<path d="M337.6,637.0 L341.7,636.7 L345.7,636.5 L349.8,636.2 L353.8,634.9 L357.9,633.6 L361.9,632.4 L366.0,629.9 L370.0,627.6 L374.1,625.4 L378.1,622.4 L382.2,619.6 L386.2,618.4 L390.3,617.1 L394.3,616.4 L398.4,616.7 L402.4,618.6 L406.5,616.4 L410.5,609.0 L414.6,603.2 L418.6,605.6 L422.7,592.3 L426.7,588.8 L430.8,584.9 L434.8,578.2 L438.9,570.1 L443.0,562.7 L447.0,563.5 L451.1,558.6 L455.1,558.3 L459.2,559.5 L463.2,555.4 L467.3,553.3 L471.3,554.7 L475.4,559.8 L479.4,564.5 L483.5,562.7 L487.5,562.4 L491.6,564.5 L495.6,565.7 L499.7,564.9 L503.7,563.0 L507.8,569.8 L511.8,571.5 L515.9,573.0 L519.9,578.2 L524.0,583.1 L528.0,585.6 L532.1,588.1 L536.1,590.1 L540.2,590.1 L540.2,603.0 L536.1,603.0 L532.1,601.3 L528.0,599.0 L524.0,596.8 L519.9,592.3 L515.9,587.6 L511.8,586.3 L507.8,584.7 L503.7,578.5 L499.7,580.2 L495.6,580.9 L491.6,579.8 L487.5,577.9 L483.5,578.2 L479.4,579.8 L475.4,575.5 L471.3,570.7 L467.3,569.3 L463.2,571.4 L459.2,575.2 L455.1,574.1 L451.1,574.4 L447.0,578.9 L443.0,578.2 L438.9,585.0 L434.8,592.3 L430.8,598.4 L426.7,601.9 L422.7,605.0 L418.6,616.5 L414.6,614.4 L410.5,619.3 L406.5,625.4 L402.4,627.2 L398.4,625.7 L394.3,625.4 L390.3,625.9 L386.2,627.0 L382.2,627.9 L378.1,630.1 L374.1,632.5 L370.0,634.1 L366.0,635.9 L361.9,637.6 L357.9,638.4 L353.8,639.3 L349.8,640.1 L345.7,640.3 L341.7,640.5 L337.6,640.7Z" fill="#00BFC4" fill-opacity="0.2"/>
<path d="M337.6,598.3 L341.7,594.6 L345.7,590.8 L349.8,588.6 L353.8,583.1 L357.9,578.2 L361.9,576.7 L366.0,569.4 L370.0,563.5 L374.1,556.2 L378.1,545.3 L382.2,538.8 L386.2,537.3 L390.3,536.3 L394.3,535.2 L398.4,535.2 L402.4,538.8 L406.5,543.8 L410.5,556.2 L414.6,558.3 L418.6,566.4 L422.7,565.4 L426.7,564.9 L430.8,567.2 L434.8,570.1 L438.9,573.0 L443.0,576.0 L447.0,584.9 L451.1,590.5 L455.1,589.0 L459.2,593.1 L463.2,593.1 L467.3,589.6 L471.3,590.8 L475.4,590.1 L479.4,589.0 L483.5,590.5 L487.5,586.6 L491.6,585.2 L495.6,588.6 L499.7,591.6 L503.7,590.1 L507.8,590.1 L511.8,590.1 L515.9,587.8 L519.9,583.4 L524.0,579.7 L528.0,581.6 L532.1,584.1 L536.1,586.3 L540.2,586.6 L540.2,600.0 L536.1,599.7 L532.1,597.7 L528.0,595.4 L524.0,593.7 L519.9,597.0 L515.9,601.0 L511.8,603.0 L507.8,603.0 L503.7,603.0 L499.7,604.3 L495.6,601.7 L491.6,598.6 L487.5,600.0 L483.5,603.4 L479.4,602.1 L475.4,603.0 L471.3,603.7 L467.3,602.6 L463.2,605.6 L459.2,605.6 L455.1,602.1 L451.1,603.4 L447.0,598.4 L443.0,590.3 L438.9,587.6 L434.8,585.0 L430.8,582.4 L426.7,580.2 L422.7,580.6 L418.6,581.6 L414.6,574.1 L410.5,572.1 L406.5,560.4 L402.4,555.6 L398.4,552.1 L394.3,552.1 L390.3,553.2 L386.2,554.2 L382.2,555.6 L378.1,561.8 L374.1,572.1 L370.0,578.9 L366.0,584.4 L361.9,591.0 L357.9,592.3 L353.8,596.8 L349.8,601.7 L345.7,603.7 L341.7,606.9 L337.6,610.2Z" fill="#C77CFF" fill-opacity="0.2"/>
<path d="M337.6,637.0 L341.7,636.5 L345.7,636.0 L349.8,635.8 L353.8,635.6 L357.9,634.8 L361.9,634.2 L366.0,632.8 L370.0,631.6 L374.1,630.4 L378.1,628.6 L382.2,626.9 L386.2,625.2 L390.3,623.5 L394.3,621.9 L398.4,621.9 L402.4,621.9 L406.5,618.4 L410.5,612.9 L414.6,607.8 L418.6,607.1 L422.7,601.5 L426.7,598.1 L430.8,594.4 L434.8,590.8 L438.9,587.4 L443.0,584.8 L447.0,582.4 L451.1,581.5 L455.1,576.1 L459.2,571.9 L463.2,571.6 L467.3,568.3 L471.3,566.5 L475.4,571.2 L479.4,572.6 L483.5,574.0 L487.5,570.5 L491.6,569.3 L495.6,572.1 L499.7,573.0 L503.7,574.7 L507.8,573.0 L511.8,571.9 L515.9,577.2 L519.9,578.2 L524.0,578.2 L528.0,576.4 L532.1,571.9 L536.1,576.4 L540.2,575.8" fill="none" stroke="#F1503F" stroke-width="2.5" stroke-linejoin="round"/>
<path d="M337.6,567.4 L341.7,564.7 L345.7,562.0 L349.8,559.7 L353.8,557.8 L357.9,558.0 L361.9,555.6 L366.0,550.6 L370.0,546.5 L374.1,534.5 L378.1,529.6 L382.2,527.8 L386.2,526.0 L390.3,526.0 L394.3,524.6 L398.4,524.6 L402.4,528.9 L406.5,534.5 L410.5,533.5 L414.6,543.0 L418.6,546.5 L422.7,552.1 L426.7,556.8 L430.8,562.0 L434.8,567.5 L438.9,572.6 L443.0,576.1 L447.0,580.3 L451.1,583.9 L455.1,586.7 L459.2,586.2 L463.2,595.8 L467.3,596.1 L471.3,595.1 L475.4,593.0 L479.4,592.3 L483.5,591.6 L487.5,589.5 L491.6,582.4 L495.6,583.9 L499.7,578.2 L503.7,580.3 L507.8,578.9 L511.8,578.2 L515.9,576.8 L519.9,571.9 L524.0,567.6 L528.0,565.1 L532.1,564.8 L536.1,566.2 L540.2,563.1" fill="none" stroke="#6AA408" stroke-width="2.5" stroke-linejoin="round"/>
<path d="M337.6,638.8 L341.7,638.6 L345.7,638.4 L349.8,638.1 L353.8,637.1 L357.9,636.0 L361.9,635.0 L366.0,632.9 L370.0,630.8 L374.1,629.0 L378.1,626.3 L382.2,623.8 L386.2,622.7 L390.3,621.5 L394.3,620.9 L398.4,621.2 L402.4,622.9 L406.5,620.9 L410.5,614.2 L414.6,608.8 L418.6,611.1 L422.7,598.7 L426.7,595.3 L430.8,591.6 L434.8,585.3 L438.9,577.5 L443.0,570.5 L447.0,571.2 L451.1,566.5 L455.1,566.2 L459.2,567.4 L463.2,563.4 L467.3,561.3 L471.3,562.7 L475.4,567.6 L479.4,572.1 L483.5,570.5 L487.5,570.2 L491.6,572.1 L495.6,573.3 L499.7,572.6 L503.7,570.7 L507.8,577.2 L511.8,578.9 L515.9,580.3 L519.9,585.3 L524.0,589.9 L528.0,592.3 L532.1,594.7 L536.1,596.5 L540.2,596.5" fill="none" stroke="#0DB2BA" stroke-width="2.5" stroke-linejoin="round"/>
<path d="M337.6,604.3 L341.7,600.8 L345.7,597.2 L349.8,595.1 L353.8,590.0 L357.9,585.3 L361.9,583.9 L366.0,576.9 L370.0,571.2 L374.1,564.1 L378.1,553.5 L382.2,547.2 L386.2,545.8 L390.3,544.7 L394.3,543.7 L398.4,543.7 L402.4,547.2 L406.5,552.1 L410.5,564.1 L414.6,566.2 L418.6,574.0 L422.7,573.0 L426.7,572.6 L430.8,574.8 L434.8,577.5 L438.9,580.3 L443.0,583.1 L447.0,591.6 L451.1,597.0 L455.1,595.6 L459.2,599.4 L463.2,599.4 L467.3,596.1 L471.3,597.2 L475.4,596.5 L479.4,595.6 L483.5,597.0 L487.5,593.3 L491.6,591.9 L495.6,595.1 L499.7,598.0 L503.7,596.5 L507.8,596.5 L511.8,596.5 L515.9,594.4 L519.9,590.2 L524.0,586.7 L528.0,588.5 L532.1,590.9 L536.1,593.0 L540.2,593.3" fill="none" stroke="#C066FA" stroke-width="2.5" stroke-linejoin="round"/>
</g>
<g>
<path d="M101.4,905.1 L105.5,900.1 L109.5,897.1 L113.6,891.2 L117.6,886.0 L121.7,884.0 L125.7,880.9 L129.8,877.9 L133.8,867.3 L137.9,864.9 L141.9,861.9 L146.0,860.0 L150.0,856.6 L154.1,855.5 L158.1,853.7 L162.2,851.4 L166.2,853.2 L170.3,850.7 L174.3,847.5 L178.4,844.6 L182.4,846.0 L186.5,848.5 L190.5,849.9 L194.6,858.0 L198.6,860.0 L202.7,859.0 L206.8,860.5 L210.8,860.5 L214.9,860.5 L218.9,865.3 L223.0,862.9 L227.0,868.4 L231.1,867.3 L235.1,873.6 L239.2,877.2 L243.2,879.0 L247.3,877.5 L251.3,878.7 L255.4,883.8 L259.4,887.5 L263.5,886.8 L267.5,883.1 L271.6,881.9 L275.6,880.9 L279.7,881.6 L283.7,882.8 L287.8,881.9 L291.8,880.1 L295.9,880.9 L299.9,881.3 L304.0,881.9 L304.0,896.9 L299.9,896.3 L295.9,895.9 L291.8,895.2 L287.8,896.9 L283.7,897.7 L279.7,896.6 L275.6,895.9 L271.6,896.9 L267.5,897.9 L263.5,901.3 L259.4,902.0 L255.4,898.6 L251.3,893.9 L247.3,892.8 L243.2,894.1 L239.2,892.5 L235.1,889.1 L231.1,883.3 L227.0,884.4 L223.0,879.2 L218.9,881.4 L214.9,876.8 L210.8,876.8 L206.8,876.8 L202.7,875.5 L198.6,876.4 L194.6,874.5 L190.5,866.8 L186.5,865.4 L182.4,863.1 L178.4,861.7 L174.3,864.4 L170.3,867.6 L166.2,870.0 L162.2,868.2 L158.1,870.4 L154.1,872.1 L150.0,873.1 L146.0,876.4 L141.9,878.2 L137.9,881.0 L133.8,883.3 L129.8,893.2 L125.7,895.9 L121.7,898.7 L117.6,900.6 L113.6,905.3 L109.5,910.7 L105.5,913.3 L101.4,917.7Z" fill="#F8766D" fill-opacity="0.2"/>
<path d="M101.4,924.4 L105.5,922.4 L109.5,921.3 L113.6,919.8 L117.6,919.3 L121.7,917.7 L125.7,916.2 L129.8,914.8 L133.8,913.7 L137.9,909.9 L141.9,900.9 L146.0,893.1 L150.0,891.9 L154.1,891.9 L158.1,893.7 L162.2,898.2 L166.2,895.2 L170.3,894.2 L174.3,895.6 L178.4,898.6 L182.4,896.1 L186.5,895.2 L190.5,894.2 L194.6,896.1 L198.6,893.7 L202.7,895.2 L206.8,898.2 L210.8,896.7 L214.9,893.4 L218.9,887.8 L223.0,890.2 L227.0,892.2 L231.1,893.7 L235.1,898.2 L239.2,898.2 L243.2,897.9 L247.3,901.2 L251.3,897.9 L255.4,900.6 L259.4,899.4 L263.5,908.4 L267.5,905.7 L271.6,903.1 L275.6,901.6 L279.7,903.1 L283.7,902.4 L287.8,909.9 L291.8,910.2 L295.9,907.6 L299.9,905.7 L304.0,904.6 L304.0,917.3 L299.9,918.2 L295.9,919.9 L291.8,922.2 L287.8,921.9 L283.7,915.3 L279.7,916.0 L275.6,914.7 L271.6,916.0 L267.5,918.2 L263.5,920.6 L259.4,912.7 L255.4,913.7 L251.3,911.3 L247.3,914.3 L243.2,911.3 L239.2,911.6 L235.1,911.6 L231.1,907.6 L227.0,906.2 L223.0,904.4 L218.9,902.2 L214.9,907.3 L210.8,910.3 L206.8,911.6 L202.7,908.9 L198.6,907.6 L194.6,909.7 L190.5,908.0 L186.5,908.9 L182.4,909.7 L178.4,912.0 L174.3,909.3 L170.3,908.0 L166.2,908.9 L162.2,911.6 L158.1,907.6 L154.1,906.0 L150.0,906.0 L146.0,907.1 L141.9,914.0 L137.9,921.9 L133.8,925.2 L129.8,926.1 L125.7,927.4 L121.7,928.6 L117.6,930.0 L113.6,930.4 L109.5,931.6 L105.5,932.6 L101.4,934.2Z" fill="#7CAE00" fill-opacity="0.2"/>
<path d="M101.4,927.9 L105.5,927.2 L109.5,926.7 L113.6,925.1 L117.6,924.8 L121.7,923.6 L125.7,923.4 L129.8,923.3 L133.8,919.8 L137.9,915.9 L141.9,908.7 L146.0,905.7 L150.0,905.7 L154.1,905.8 L158.1,905.9 L162.2,906.1 L166.2,907.6 L170.3,911.4 L174.3,914.7 L178.4,917.2 L182.4,916.7 L186.5,915.2 L190.5,909.9 L194.6,905.7 L198.6,907.2 L202.7,908.7 L206.8,909.9 L210.8,906.9 L214.9,914.1 L218.9,911.4 L223.0,908.7 L227.0,906.8 L231.1,905.4 L235.1,902.4 L239.2,901.0 L243.2,899.7 L247.3,896.4 L251.3,892.7 L255.4,890.2 L259.4,888.2 L263.5,886.0 L267.5,883.1 L271.6,884.6 L275.6,886.8 L279.7,889.7 L283.7,886.0 L287.8,884.6 L291.8,880.1 L295.9,874.6 L299.9,874.6 L304.0,874.6 L304.0,890.1 L299.9,890.1 L295.9,890.1 L291.8,895.2 L287.8,899.3 L283.7,900.6 L279.7,904.0 L275.6,901.3 L271.6,899.3 L267.5,897.9 L263.5,900.6 L259.4,902.6 L255.4,904.4 L251.3,906.7 L247.3,910.0 L243.2,912.9 L239.2,914.1 L235.1,915.3 L231.1,918.0 L227.0,919.2 L223.0,920.9 L218.9,923.2 L214.9,925.6 L210.8,919.3 L206.8,921.9 L202.7,920.9 L198.6,919.5 L194.6,918.2 L190.5,921.9 L186.5,926.5 L182.4,927.8 L178.4,928.2 L174.3,926.1 L170.3,923.2 L166.2,919.9 L162.2,918.6 L158.1,918.5 L154.1,918.3 L150.0,918.2 L146.0,918.2 L141.9,920.9 L137.9,927.1 L133.8,930.4 L129.8,933.3 L125.7,933.4 L121.7,933.6 L117.6,934.6 L113.6,934.8 L109.5,936.1 L105.5,936.5 L101.4,937.1Z" fill="#00BFC4" fill-opacity="0.2"/>
<path d="M101.4,909.6 L105.5,908.6 L109.5,908.1 L113.6,908.1 L117.6,904.6 L121.7,903.6 L125.7,905.4 L129.8,905.4 L133.8,900.9 L137.9,892.7 L141.9,889.7 L146.0,889.0 L150.0,884.8 L154.1,887.5 L158.1,889.0 L162.2,889.7 L166.2,890.5 L170.3,891.2 L174.3,892.2 L178.4,894.2 L182.4,894.9 L186.5,893.7 L190.5,893.7 L194.6,894.9 L198.6,890.5 L202.7,886.9 L206.8,883.1 L210.8,884.8 L214.9,880.9 L218.9,883.8 L223.0,880.1 L227.0,879.4 L231.1,877.5 L235.1,876.5 L239.2,872.1 L243.2,871.7 L247.3,875.0 L251.3,877.5 L255.4,876.0 L259.4,874.6 L263.5,874.3 L267.5,870.2 L271.6,874.3 L275.6,877.5 L279.7,879.0 L283.7,881.6 L287.8,883.8 L291.8,885.3 L295.9,889.3 L299.9,889.5 L304.0,889.7 L304.0,904.0 L299.9,903.8 L295.9,903.6 L291.8,900.0 L287.8,898.6 L283.7,896.6 L279.7,894.1 L275.6,892.8 L271.6,889.8 L267.5,886.0 L263.5,889.8 L259.4,890.1 L255.4,891.4 L251.3,892.8 L247.3,890.5 L243.2,887.4 L239.2,887.8 L235.1,891.8 L231.1,892.8 L227.0,894.6 L223.0,895.2 L218.9,898.6 L214.9,895.9 L210.8,899.5 L206.8,897.9 L202.7,901.5 L198.6,904.7 L194.6,908.7 L190.5,907.6 L186.5,907.6 L182.4,908.7 L178.4,908.0 L174.3,906.3 L170.3,905.3 L166.2,904.7 L162.2,904.0 L158.1,903.3 L154.1,902.0 L150.0,899.5 L146.0,903.3 L141.9,904.0 L137.9,906.7 L133.8,914.0 L129.8,918.0 L125.7,918.0 L121.7,916.4 L117.6,917.3 L113.6,920.3 L109.5,920.3 L105.5,920.8 L101.4,921.6Z" fill="#C77CFF" fill-opacity="0.2"/>
<path d="M101.4,911.4 L105.5,906.7 L109.5,903.9 L113.6,898.3 L117.6,893.3 L121.7,891.4 L125.7,888.4 L129.8,885.6 L133.8,875.3 L137.9,872.9 L141.9,870.1 L146.0,868.2 L150.0,864.8 L154.1,863.8 L158.1,862.0 L162.2,859.8 L166.2,861.6 L170.3,859.1 L174.3,856.0 L178.4,853.1 L182.4,854.5 L186.5,856.9 L190.5,858.4 L194.6,866.3 L198.6,868.2 L202.7,867.2 L206.8,868.6 L210.8,868.6 L214.9,868.6 L218.9,873.3 L223.0,871.0 L227.0,876.4 L231.1,875.3 L235.1,881.3 L239.2,884.9 L243.2,886.6 L247.3,885.1 L251.3,886.3 L255.4,891.2 L259.4,894.7 L263.5,894.0 L267.5,890.5 L271.6,889.4 L275.6,888.4 L279.7,889.1 L283.7,890.2 L287.8,889.4 L291.8,887.7 L295.9,888.4 L299.9,888.8 L304.0,889.4" fill="none" stroke="#F1503F" stroke-width="2.5" stroke-linejoin="round"/>
<path d="M101.4,929.3 L105.5,927.5 L109.5,926.5 L113.6,925.1 L117.6,924.6 L121.7,923.1 L125.7,921.8 L129.8,920.4 L133.8,919.4 L137.9,915.9 L141.9,907.4 L146.0,900.1 L150.0,899.0 L154.1,899.0 L158.1,900.7 L162.2,904.9 L166.2,902.1 L170.3,901.1 L174.3,902.5 L178.4,905.3 L182.4,902.9 L186.5,902.1 L190.5,901.1 L194.6,902.9 L198.6,900.7 L202.7,902.1 L206.8,904.9 L210.8,903.5 L214.9,900.4 L218.9,895.0 L223.0,897.3 L227.0,899.2 L231.1,900.7 L235.1,904.9 L239.2,904.9 L243.2,904.6 L247.3,907.7 L251.3,904.6 L255.4,907.1 L259.4,906.0 L263.5,914.5 L267.5,911.9 L271.6,909.5 L275.6,908.1 L279.7,909.5 L283.7,908.8 L287.8,915.9 L291.8,916.2 L295.9,913.8 L299.9,911.9 L304.0,911.0" fill="none" stroke="#6AA408" stroke-width="2.5" stroke-linejoin="round"/>
<path d="M101.4,932.5 L105.5,931.8 L109.5,931.4 L113.6,930.0 L117.6,929.7 L121.7,928.6 L125.7,928.4 L129.8,928.3 L133.8,925.1 L137.9,921.5 L141.9,914.8 L146.0,911.9 L150.0,911.9 L154.1,912.0 L158.1,912.2 L162.2,912.4 L166.2,913.8 L170.3,917.3 L174.3,920.4 L178.4,922.7 L182.4,922.2 L186.5,920.8 L190.5,915.9 L194.6,911.9 L198.6,913.3 L202.7,914.8 L206.8,915.9 L210.8,913.1 L214.9,919.8 L218.9,917.3 L223.0,914.8 L227.0,913.0 L231.1,911.7 L235.1,908.8 L239.2,907.6 L243.2,906.3 L247.3,903.2 L251.3,899.7 L255.4,897.3 L259.4,895.4 L263.5,893.3 L267.5,890.5 L271.6,891.9 L275.6,894.0 L279.7,896.9 L283.7,893.3 L287.8,891.9 L291.8,887.7 L295.9,882.3 L299.9,882.3 L304.0,882.3" fill="none" stroke="#0DB2BA" stroke-width="2.5" stroke-linejoin="round"/>
<path d="M101.4,915.6 L105.5,914.7 L109.5,914.2 L113.6,914.2 L117.6,911.0 L121.7,910.0 L125.7,911.7 L129.8,911.7 L133.8,907.4 L137.9,899.7 L141.9,896.9 L146.0,896.1 L150.0,892.2 L154.1,894.7 L158.1,896.1 L162.2,896.9 L166.2,897.6 L170.3,898.3 L174.3,899.2 L178.4,901.1 L182.4,901.8 L186.5,900.7 L190.5,900.7 L194.6,901.8 L198.6,897.6 L202.7,894.2 L206.8,890.5 L210.8,892.2 L214.9,888.4 L218.9,891.2 L223.0,887.7 L227.0,887.0 L231.1,885.1 L235.1,884.2 L239.2,879.9 L243.2,879.5 L247.3,882.7 L251.3,885.1 L255.4,883.7 L259.4,882.3 L263.5,882.0 L267.5,878.1 L271.6,882.0 L275.6,885.1 L279.7,886.6 L283.7,889.1 L287.8,891.2 L291.8,892.6 L295.9,896.4 L299.9,896.6 L304.0,896.9" fill="none" stroke="#C066FA" stroke-width="2.5" stroke-linejoin="round"/>
</g>
<g>
<path d="M337.6,895.6 L341.7,891.9 L345.7,889.3 L349.8,887.5 L353.8,886.0 L357.9,880.9 L361.9,877.2 L366.0,871.4 L370.0,867.7 L374.1,859.7 L378.1,850.4 L382.2,848.5 L386.2,847.6 L390.3,846.8 L394.3,844.6 L398.4,847.5 L402.4,850.8 L406.5,847.9 L410.5,849.4 L414.6,856.8 L418.6,858.3 L422.7,857.2 L426.7,856.1 L430.8,857.6 L434.8,859.7 L438.9,860.1 L443.0,860.5 L447.0,861.9 L451.1,866.7 L455.1,867.0 L459.2,872.1 L463.2,869.9 L467.3,876.5 L471.3,883.1 L475.4,886.0 L479.4,887.2 L483.5,884.6 L487.5,881.6 L491.6,886.0 L495.6,887.5 L499.7,888.7 L503.7,893.4 L507.8,893.7 L511.8,894.9 L515.9,893.4 L519.9,891.2 L524.0,890.5 L528.0,890.8 L532.1,889.7 L536.1,888.7 L540.2,889.7 L540.2,904.0 L536.1,903.0 L532.1,904.0 L528.0,904.9 L524.0,904.7 L519.9,905.3 L515.9,907.3 L511.8,908.7 L507.8,907.6 L503.7,907.3 L499.7,903.0 L495.6,902.0 L491.6,900.6 L487.5,896.6 L483.5,899.3 L479.4,901.7 L475.4,900.6 L471.3,897.9 L467.3,891.8 L463.2,885.7 L459.2,887.8 L455.1,883.0 L451.1,882.7 L447.0,878.2 L443.0,876.8 L438.9,876.5 L434.8,876.1 L430.8,874.1 L426.7,872.7 L422.7,873.7 L418.6,874.8 L414.6,873.4 L410.5,866.2 L406.5,864.8 L402.4,867.6 L398.4,864.4 L394.3,861.7 L390.3,863.7 L386.2,864.5 L382.2,865.4 L378.1,867.2 L374.1,876.1 L370.0,883.7 L366.0,887.1 L361.9,892.5 L357.9,895.9 L353.8,900.6 L349.8,902.0 L345.7,903.6 L341.7,906.0 L337.6,909.3Z" fill="#F8766D" fill-opacity="0.2"/>
<path d="M337.6,925.9 L341.7,923.3 L345.7,921.7 L349.8,921.3 L353.8,920.5 L357.9,919.8 L361.9,919.3 L366.0,919.0 L370.0,911.4 L374.1,907.6 L378.1,901.6 L382.2,897.1 L386.2,894.9 L390.3,893.4 L394.3,893.7 L398.4,896.7 L402.4,899.1 L406.5,900.9 L410.5,896.7 L414.6,895.6 L418.6,885.7 L422.7,883.8 L426.7,883.1 L430.8,884.3 L434.8,884.8 L438.9,889.7 L443.0,891.6 L447.0,889.7 L451.1,892.2 L455.1,891.6 L459.2,893.4 L463.2,890.2 L467.3,886.8 L471.3,882.3 L475.4,879.4 L479.4,881.3 L483.5,877.9 L487.5,876.9 L491.6,880.1 L495.6,881.6 L499.7,878.7 L503.7,877.9 L507.8,878.7 L511.8,880.1 L515.9,878.4 L519.9,877.9 L524.0,879.0 L528.0,883.1 L532.1,887.5 L536.1,889.0 L540.2,889.7 L540.2,904.0 L536.1,903.3 L532.1,902.0 L528.0,897.9 L524.0,894.1 L519.9,893.2 L515.9,893.6 L511.8,895.2 L507.8,893.9 L503.7,893.2 L499.7,893.9 L495.6,896.6 L491.6,895.2 L487.5,892.2 L483.5,893.2 L479.4,896.3 L475.4,894.6 L471.3,897.3 L467.3,901.3 L463.2,904.4 L459.2,907.3 L455.1,905.7 L451.1,906.3 L447.0,904.0 L443.0,905.7 L438.9,904.0 L434.8,899.5 L430.8,899.0 L426.7,897.9 L422.7,898.6 L418.6,900.4 L414.6,909.3 L410.5,910.3 L406.5,914.0 L402.4,912.4 L398.4,910.3 L394.3,907.6 L390.3,907.3 L386.2,908.7 L382.2,910.7 L378.1,914.7 L374.1,919.9 L370.0,923.2 L366.0,929.7 L361.9,930.0 L357.9,930.4 L353.8,931.0 L349.8,931.6 L345.7,932.0 L341.7,933.3 L337.6,935.5Z" fill="#7CAE00" fill-opacity="0.2"/>
<path d="M337.6,925.1 L341.7,922.1 L345.7,920.5 L349.8,919.3 L353.8,919.1 L357.9,919.0 L361.9,918.6 L366.0,918.2 L370.0,918.2 L374.1,911.7 L378.1,911.4 L382.2,911.1 L386.2,910.6 L390.3,910.2 L394.3,910.6 L398.4,912.9 L402.4,908.7 L406.5,913.7 L410.5,917.5 L414.6,915.6 L418.6,915.9 L422.7,917.8 L426.7,914.4 L430.8,911.4 L434.8,908.1 L438.9,906.3 L443.0,904.6 L447.0,903.1 L451.1,906.6 L455.1,905.1 L459.2,906.1 L463.2,906.6 L467.3,903.9 L471.3,899.4 L475.4,896.4 L479.4,902.4 L483.5,904.6 L487.5,905.4 L491.6,902.4 L495.6,904.6 L499.7,906.1 L503.7,907.6 L507.8,904.6 L511.8,906.1 L515.9,902.4 L519.9,903.6 L524.0,900.9 L528.0,894.9 L532.1,890.5 L536.1,887.5 L540.2,885.3 L540.2,900.0 L536.1,902.0 L532.1,904.7 L528.0,908.7 L524.0,914.0 L519.9,916.4 L515.9,915.3 L511.8,918.6 L507.8,917.3 L503.7,919.9 L499.7,918.6 L495.6,917.3 L491.6,915.3 L487.5,918.0 L483.5,917.3 L479.4,915.3 L475.4,910.0 L471.3,912.7 L467.3,916.6 L463.2,919.0 L459.2,918.6 L455.1,917.7 L451.1,919.0 L447.0,916.0 L443.0,917.3 L438.9,918.8 L434.8,920.3 L430.8,923.2 L426.7,925.8 L422.7,928.7 L418.6,927.1 L414.6,926.9 L410.5,928.4 L406.5,925.2 L402.4,920.9 L398.4,924.5 L394.3,922.6 L390.3,922.2 L386.2,922.5 L382.2,922.9 L378.1,923.2 L374.1,923.5 L370.0,929.1 L366.0,929.1 L361.9,929.3 L357.9,929.7 L353.8,929.8 L349.8,930.0 L345.7,931.0 L341.7,932.3 L337.6,934.8Z" fill="#00BFC4" fill-opacity="0.2"/>
<path d="M337.6,919.3 L341.7,916.7 L345.7,915.6 L349.8,915.2 L353.8,914.0 L357.9,912.9 L361.9,911.4 L366.0,907.6 L370.0,902.4 L374.1,897.9 L378.1,893.4 L382.2,890.5 L386.2,890.5 L390.3,890.5 L394.3,890.5 L398.4,892.7 L402.4,890.2 L406.5,891.2 L410.5,893.4 L414.6,892.7 L418.6,893.4 L422.7,893.1 L426.7,894.9 L430.8,899.1 L434.8,896.4 L438.9,895.7 L443.0,894.9 L447.0,893.7 L451.1,891.2 L455.1,887.2 L459.2,887.5 L463.2,886.3 L467.3,889.7 L471.3,891.2 L475.4,888.2 L479.4,889.0 L483.5,886.0 L487.5,889.0 L491.6,887.5 L495.6,881.6 L499.7,882.3 L503.7,880.9 L507.8,878.7 L511.8,881.3 L515.9,877.2 L519.9,871.4 L524.0,873.6 L528.0,875.0 L532.1,880.1 L536.1,883.1 L540.2,882.3 L540.2,897.3 L536.1,897.9 L532.1,895.2 L528.0,890.5 L524.0,889.1 L519.9,887.1 L515.9,892.5 L511.8,896.3 L507.8,893.9 L503.7,895.9 L499.7,897.3 L495.6,896.6 L491.6,902.0 L487.5,903.3 L483.5,900.6 L479.4,903.3 L475.4,902.6 L471.3,905.3 L467.3,904.0 L463.2,900.9 L459.2,902.0 L455.1,901.7 L451.1,905.3 L447.0,907.6 L443.0,908.7 L438.9,909.3 L434.8,910.0 L430.8,912.4 L426.7,908.7 L422.7,907.1 L418.6,907.3 L414.6,906.7 L410.5,907.3 L406.5,905.3 L402.4,904.4 L398.4,906.7 L394.3,904.7 L390.3,904.7 L386.2,904.7 L382.2,904.7 L378.1,907.3 L374.1,911.3 L370.0,915.3 L366.0,919.9 L361.9,923.2 L357.9,924.5 L353.8,925.4 L349.8,926.5 L345.7,926.9 L341.7,927.8 L337.6,930.0Z" fill="#C77CFF" fill-opacity="0.2"/>
<path d="M337.6,902.5 L341.7,899.0 L345.7,896.4 L349.8,894.7 L353.8,893.3 L357.9,888.4 L361.9,884.9 L366.0,879.2 L370.0,875.7 L374.1,867.9 L378.1,858.8 L382.2,856.9 L386.2,856.1 L390.3,855.3 L394.3,853.1 L398.4,856.0 L402.4,859.2 L406.5,856.4 L410.5,857.8 L414.6,865.1 L418.6,866.5 L422.7,865.5 L426.7,864.4 L430.8,865.8 L434.8,867.9 L438.9,868.3 L443.0,868.6 L447.0,870.1 L451.1,874.7 L455.1,875.0 L459.2,879.9 L463.2,877.8 L467.3,884.2 L471.3,890.5 L475.4,893.3 L479.4,894.5 L483.5,891.9 L487.5,889.1 L491.6,893.3 L495.6,894.7 L499.7,895.9 L503.7,900.4 L507.8,900.7 L511.8,901.8 L515.9,900.4 L519.9,898.3 L524.0,897.6 L528.0,897.8 L532.1,896.9 L536.1,895.9 L540.2,896.9" fill="none" stroke="#F1503F" stroke-width="2.5" stroke-linejoin="round"/>
<path d="M337.6,930.7 L341.7,928.3 L345.7,926.9 L349.8,926.5 L353.8,925.7 L357.9,925.1 L361.9,924.7 L366.0,924.3 L370.0,917.3 L374.1,913.8 L378.1,908.1 L382.2,903.9 L386.2,901.8 L390.3,900.4 L394.3,900.7 L398.4,903.5 L402.4,905.7 L406.5,907.4 L410.5,903.5 L414.6,902.5 L418.6,893.0 L422.7,891.2 L426.7,890.5 L430.8,891.6 L434.8,892.2 L438.9,896.9 L443.0,898.7 L447.0,896.9 L451.1,899.2 L455.1,898.7 L459.2,900.4 L463.2,897.3 L467.3,894.0 L471.3,889.8 L475.4,887.0 L479.4,888.8 L483.5,885.6 L487.5,884.6 L491.6,887.7 L495.6,889.1 L499.7,886.3 L503.7,885.6 L507.8,886.3 L511.8,887.7 L515.9,886.0 L519.9,885.6 L524.0,886.6 L528.0,890.5 L532.1,894.7 L536.1,896.1 L540.2,896.9" fill="none" stroke="#6AA408" stroke-width="2.5" stroke-linejoin="round"/>
<path d="M337.6,930.0 L341.7,927.2 L345.7,925.8 L349.8,924.6 L353.8,924.5 L357.9,924.3 L361.9,923.9 L366.0,923.6 L370.0,923.6 L374.1,917.6 L378.1,917.3 L382.2,917.0 L386.2,916.6 L390.3,916.2 L394.3,916.6 L398.4,918.7 L402.4,914.8 L406.5,919.4 L410.5,922.9 L414.6,921.2 L418.6,921.5 L422.7,923.2 L426.7,920.1 L430.8,917.3 L434.8,914.2 L438.9,912.6 L443.0,911.0 L447.0,909.5 L451.1,912.8 L455.1,911.4 L459.2,912.4 L463.2,912.8 L467.3,910.2 L471.3,906.0 L475.4,903.2 L479.4,908.8 L483.5,911.0 L487.5,911.7 L491.6,908.8 L495.6,911.0 L499.7,912.4 L503.7,913.8 L507.8,911.0 L511.8,912.4 L515.9,908.8 L519.9,910.0 L524.0,907.4 L528.0,901.8 L532.1,897.6 L536.1,894.7 L540.2,892.6" fill="none" stroke="#0DB2BA" stroke-width="2.5" stroke-linejoin="round"/>
<path d="M337.6,924.6 L341.7,922.2 L345.7,921.2 L349.8,920.8 L353.8,919.7 L357.9,918.7 L361.9,917.3 L366.0,913.8 L370.0,908.8 L374.1,904.6 L378.1,900.4 L382.2,897.6 L386.2,897.6 L390.3,897.6 L394.3,897.6 L398.4,899.7 L402.4,897.3 L406.5,898.3 L410.5,900.4 L414.6,899.7 L418.6,900.4 L422.7,900.1 L426.7,901.8 L430.8,905.7 L434.8,903.2 L438.9,902.5 L443.0,901.8 L447.0,900.7 L451.1,898.3 L455.1,894.5 L459.2,894.7 L463.2,893.6 L467.3,896.9 L471.3,898.3 L475.4,895.4 L479.4,896.1 L483.5,893.3 L487.5,896.1 L491.6,894.7 L495.6,889.1 L499.7,889.8 L503.7,888.4 L507.8,886.3 L511.8,888.8 L515.9,884.9 L519.9,879.2 L524.0,881.3 L528.0,882.7 L532.1,887.7 L536.1,890.5 L540.2,889.8" fill="none" stroke="#C066FA" stroke-width="2.5" stroke-linejoin="round"/>
</g>
<line x1="91.75" x2="91.75" y1="47.0" y2="345.9" stroke="#000" stroke-width="2.6"/>
<line x1="85.0" x2="90.6" y1="332.7" y2="332.7" stroke="#000" stroke-width="2.4"/>
<text x="78.9" y="340.5" text-anchor="end" class="t">0.00</text>
<line x1="85.0" x2="90.6" y1="264.7" y2="264.7" stroke="#000" stroke-width="2.4"/>
<text x="78.9" y="272.5" text-anchor="end" class="t">0.25</text>
<line x1="85.0" x2="90.6" y1="196.6" y2="196.6" stroke="#000" stroke-width="2.4"/>
<text x="78.9" y="204.4" text-anchor="end" class="t">0.50</text>
<line x1="85.0" x2="90.6" y1="128.6" y2="128.6" stroke="#000" stroke-width="2.4"/>
<text x="78.9" y="136.4" text-anchor="end" class="t">0.75</text>
<line x1="85.0" x2="90.6" y1="60.6" y2="60.6" stroke="#000" stroke-width="2.4"/>
<text x="78.9" y="68.4" text-anchor="end" class="t">1.00</text>
<line x1="91.75" x2="91.75" y1="359.7" y2="658.5" stroke="#000" stroke-width="2.6"/>
<line x1="85.0" x2="90.6" y1="645.2" y2="645.2" stroke="#000" stroke-width="2.4"/>
<text x="78.9" y="653.0" text-anchor="end" class="t">0.00</text>
<line x1="85.0" x2="90.6" y1="577.2" y2="577.2" stroke="#000" stroke-width="2.4"/>
<text x="78.9" y="585.0" text-anchor="end" class="t">0.25</text>
<line x1="85.0" x2="90.6" y1="509.2" y2="509.2" stroke="#000" stroke-width="2.4"/>
<text x="78.9" y="517.0" text-anchor="end" class="t">0.50</text>
<line x1="85.0" x2="90.6" y1="441.1" y2="441.1" stroke="#000" stroke-width="2.4"/>
<text x="78.9" y="448.9" text-anchor="end" class="t">0.75</text>
<line x1="85.0" x2="90.6" y1="373.1" y2="373.1" stroke="#000" stroke-width="2.4"/>
<text x="78.9" y="380.9" text-anchor="end" class="t">1.00</text>
<line x1="91.75" x2="91.75" y1="672.3" y2="972.5" stroke="#000" stroke-width="2.6"/>
<line x1="85.0" x2="90.6" y1="957.7" y2="957.7" stroke="#000" stroke-width="2.4"/>
<text x="78.9" y="965.5" text-anchor="end" class="t">0.00</text>
<line x1="85.0" x2="90.6" y1="889.7" y2="889.7" stroke="#000" stroke-width="2.4"/>
<text x="78.9" y="897.5" text-anchor="end" class="t">0.25</text>
<line x1="85.0" x2="90.6" y1="821.7" y2="821.7" stroke="#000" stroke-width="2.4"/>
<text x="78.9" y="829.5" text-anchor="end" class="t">0.50</text>
<line x1="85.0" x2="90.6" y1="753.6" y2="753.6" stroke="#000" stroke-width="2.4"/>
<text x="78.9" y="761.4" text-anchor="end" class="t">0.75</text>
<line x1="85.0" x2="90.6" y1="685.6" y2="685.6" stroke="#000" stroke-width="2.4"/>
<text x="78.9" y="693.4" text-anchor="end" class="t">1.00</text>
<line x1="90.45" x2="313.8" y1="971.2" y2="971.2" stroke="#000" stroke-width="2.5"/>
<line x1="101.4" x2="101.4" y1="972.2" y2="977.7" stroke="#000" stroke-width="2.5"/>
<text x="101.4" y="998.3" text-anchor="middle" class="t">0</text>
<line x1="152.1" x2="152.1" y1="972.2" y2="977.7" stroke="#000" stroke-width="2.5"/>
<text x="152.1" y="998.3" text-anchor="middle" class="t">250</text>
<line x1="202.7" x2="202.7" y1="972.2" y2="977.7" stroke="#000" stroke-width="2.5"/>
<text x="202.7" y="998.3" text-anchor="middle" class="t">500</text>
<line x1="253.3" x2="253.3" y1="972.2" y2="977.7" stroke="#000" stroke-width="2.5"/>
<text x="253.3" y="998.3" text-anchor="middle" class="t">750</text>
<line x1="304.0" x2="304.0" y1="972.2" y2="977.7" stroke="#000" stroke-width="2.5"/>
<text x="304.0" y="998.3" text-anchor="middle" class="t">1000</text>
<line x1="328.0" x2="550.0" y1="971.2" y2="971.2" stroke="#000" stroke-width="2.5"/>
<line x1="337.6" x2="337.6" y1="972.2" y2="977.7" stroke="#000" stroke-width="2.5"/>
<text x="337.6" y="998.3" text-anchor="middle" class="t">0</text>
<line x1="388.2" x2="388.2" y1="972.2" y2="977.7" stroke="#000" stroke-width="2.5"/>
<text x="388.2" y="998.3" text-anchor="middle" class="t">250</text>
<line x1="438.9" x2="438.9" y1="972.2" y2="977.7" stroke="#000" stroke-width="2.5"/>
<text x="438.9" y="998.3" text-anchor="middle" class="t">500</text>
<line x1="489.6" x2="489.6" y1="972.2" y2="977.7" stroke="#000" stroke-width="2.5"/>
<text x="489.6" y="998.3" text-anchor="middle" class="t">750</text>
<line x1="540.2" x2="540.2" y1="972.2" y2="977.7" stroke="#000" stroke-width="2.5"/>
<text x="540.2" y="998.3" text-anchor="middle" class="t">1000</text>
<rect x="92.9" y="7.4" width="219.8" height="38.3" fill="#fff" stroke="#000" stroke-width="2.4"/>
<rect x="328.7" y="7.4" width="219.8" height="38.3" fill="#fff" stroke="#000" stroke-width="2.4"/>
<text x="202.7" y="34.4" text-anchor="middle" class="t ls">level: intermediate</text>
<text x="438.6" y="34.4" text-anchor="middle" class="t ls">level: advanced</text>
<rect x="551.6" y="48.9" width="38.2" height="296.2" fill="#fff" stroke="#000" stroke-width="2.4"/>
<text transform="translate(562.8,197.0) rotate(90)" text-anchor="middle" class="t ls">context:neutral</text>
<rect x="551.6" y="361.4" width="38.2" height="296.2" fill="#fff" stroke="#000" stroke-width="2.4"/>
<text transform="translate(562.8,509.5) rotate(90)" text-anchor="middle" class="t ls">context: figurative</text>
<rect x="551.6" y="673.9" width="38.2" height="296.2" fill="#fff" stroke="#000" stroke-width="2.4"/>
<text transform="translate(562.8,822.0) rotate(90)" text-anchor="middle" class="t ls">context: literal</text>
<text x="320.6" y="1028.7" text-anchor="middle" class="T" style="letter-spacing:0.25px">Time</text>
<text transform="translate(24.7,509.7) rotate(-90)" text-anchor="middle" class="T" style="letter-spacing:0.09px">Looks proportions</text>
<text x="631.1" y="427.6" class="T" style="letter-spacing:0.2px">Probe in focus</text>
<rect x="633.1" y="446.0" width="39.0" height="37.9" fill="#F8766D" fill-opacity="0.2"/>
<line x1="635.7" x2="669.5" y1="465.0" y2="465.0" stroke="#F1503F" stroke-width="2.3"/>
<text x="687.5" y="473.1" class="t ls">figurative control</text>
<rect x="633.1" y="488.2" width="39.0" height="37.9" fill="#7CAE00" fill-opacity="0.2"/>
<line x1="635.7" x2="669.5" y1="507.2" y2="507.2" stroke="#6AA408" stroke-width="2.3"/>
<text x="687.5" y="515.3" class="t ls">figurative related</text>
<rect x="633.1" y="530.4" width="39.0" height="37.9" fill="#00BFC4" fill-opacity="0.2"/>
<line x1="635.7" x2="669.5" y1="549.4" y2="549.4" stroke="#0DB2BA" stroke-width="2.3"/>
<text x="687.5" y="557.5" class="t ls">literal control</text>
<rect x="633.1" y="572.6" width="39.0" height="37.9" fill="#C77CFF" fill-opacity="0.2"/>
<line x1="635.7" x2="669.5" y1="591.6" y2="591.6" stroke="#C066FA" stroke-width="2.3"/>
<text x="687.5" y="599.7" class="t ls">literal related</text>
</svg>
</body></html>
